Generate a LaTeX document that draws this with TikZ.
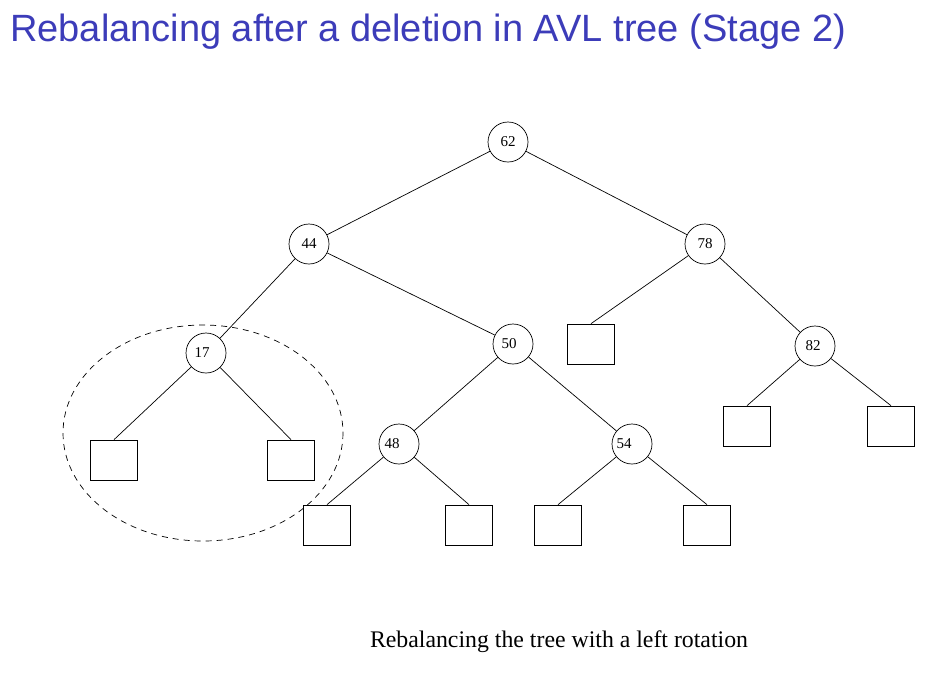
\documentclass[tikz,border=0pt]{standalone}
\usepackage{fontspec}
\setmainfont{Liberation Serif}
\newfontfamily\titlefont{Liberation Sans}
\definecolor{titleblue}{RGB}{60,60,185}
\begin{document}
\begin{tikzpicture}[x=1pt,y=-1pt,
  keynode/.style={circle,draw,line width=0.7pt,minimum size=40pt,inner sep=0pt,font=\fontsize{15}{17}\selectfont},
  leafbox/.style={rectangle,draw,line width=0.7pt,minimum width=47pt,minimum height=40pt,inner sep=0pt},
  edge/.style={line width=0.7pt}]
\useasboundingbox (0,0) rectangle (933,675);
\node[anchor=base west,text=titleblue,font=\titlefont\fontsize{38}{44}\selectfont,inner sep=0pt] (title) at (10,41) {Rebalancing after a deletion in AVL tree (Stage 2)};
\node[keynode] (n62) at (508,142) {62};
\node[keynode] (n44) at (309,244) {44};
\node[keynode] (n78) at (705,244) {78};
\node[keynode] (n17) at (206,353) {\hspace*{-8pt}17};
\node[keynode] (n50) at (513,344) {\hspace*{-8pt}50};
\node[keynode] (n82) at (815,346) {\hspace*{-4pt}82};
\node[keynode] (n48) at (399,444) {\hspace*{-14pt}48};
\node[keynode] (n54) at (632,444) {\hspace*{-16pt}54};
\node[leafbox] (b78) at (591,344) {};
\node[leafbox] (b17l) at (114,460) {};
\node[leafbox] (b17r) at (291,460) {};
\node[leafbox] (b82l) at (747,426) {};
\node[leafbox] (b82r) at (891,426) {};
\node[leafbox] (b48l) at (327,525) {};
\node[leafbox] (b48r) at (469,525) {};
\node[leafbox] (b54l) at (558,525) {};
\node[leafbox] (b54r) at (707,525) {};
\draw[edge] (n62) -- (n44);
\draw[edge] (n62) -- (n78);
\draw[edge] (n44) -- (n17);
\draw[edge] (n44) -- (n50);
\draw[edge] (n78) -- (b78.north);
\draw[edge] (n78) -- (n82);
\draw[edge] (n17) -- (b17l.north);
\draw[edge] (n17) -- (b17r.north);
\draw[edge] (n50) -- (n48);
\draw[edge] (n50) -- (n54);
\draw[edge] (n82) -- (b82l.north);
\draw[edge] (n82) -- (b82r.north);
\draw[edge] (n48) -- (b48l.north);
\draw[edge] (n48) -- (b48r.north);
\draw[edge] (n54) -- (b54l.north);
\draw[edge] (n54) -- (b54r.north);
\draw[line width=0.7pt,dash pattern=on 6pt off 5pt] (203,433) ellipse [x radius=140, y radius=108];
\node[anchor=base,font=\fontsize{23.8}{28}\selectfont,inner sep=0pt] (caption) at (559,647) {Rebalancing the tree with a left rotation};
\end{tikzpicture}
\end{document}
